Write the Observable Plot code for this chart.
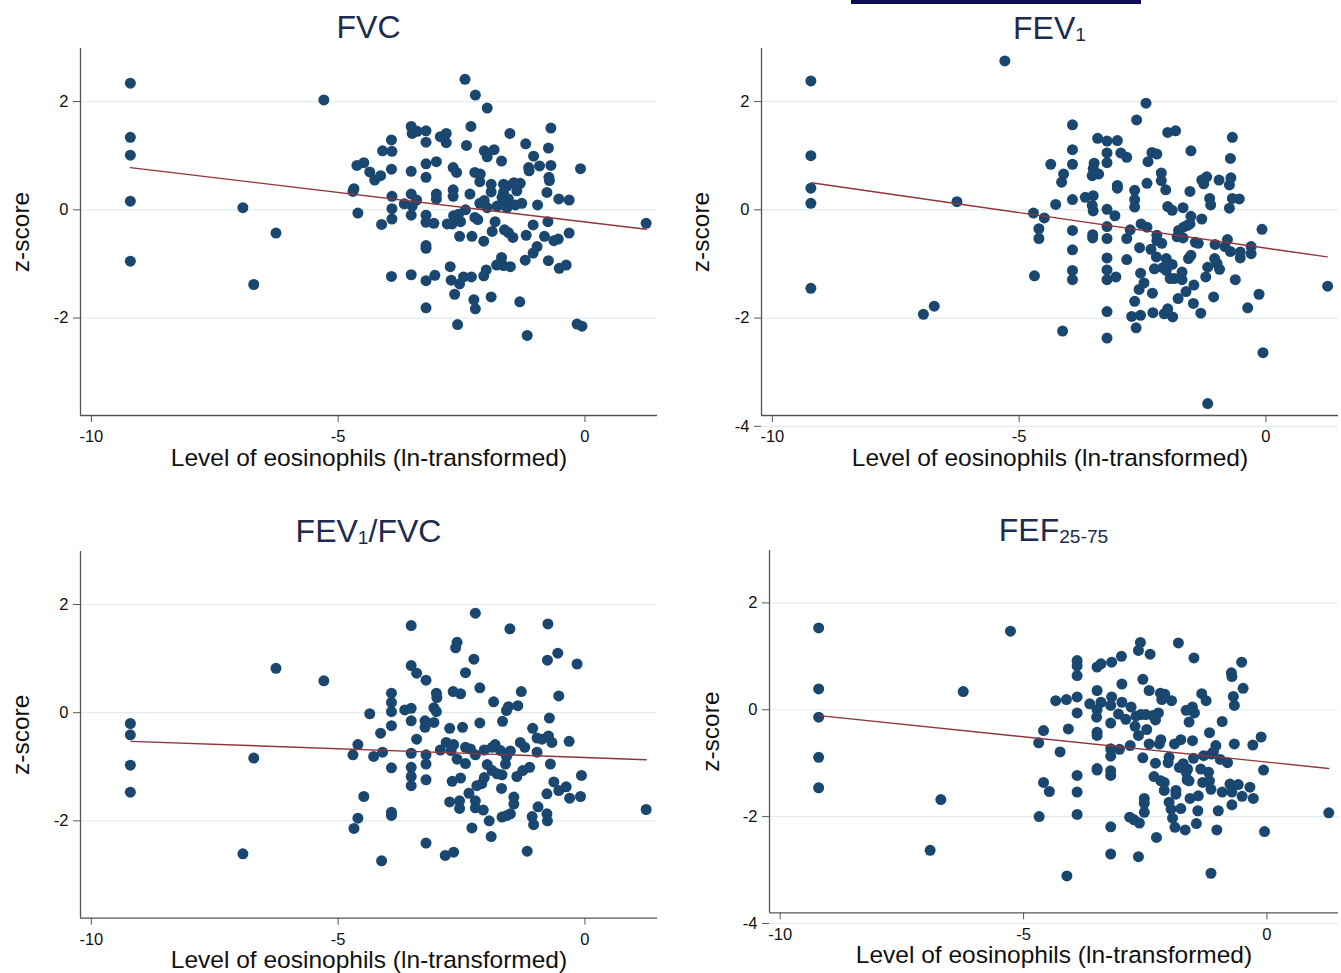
<!DOCTYPE html>
<html><head><meta charset="utf-8">
<script src="https://cdn.jsdelivr.net/npm/d3@7"></script>
<script src="https://cdn.jsdelivr.net/npm/@observablehq/plot@0.6"></script>
<style>
body{margin:0;background:#fff;width:1341px;height:973px;overflow:hidden;position:relative;font-family:"Liberation Sans",Arial,sans-serif}
.panel{position:absolute}
.title{position:absolute;text-align:center;font-size:32px;line-height:32px;color:#1d2b4e;white-space:nowrap}
.sub{font-size:0.6em;vertical-align:-2px}
#bar{position:absolute;left:851px;top:0;width:290px;height:4px;background:#0c0c58}
</style></head><body>
<div id="bar"></div>
<script>
// ---- data: [ln eosinophils, z-score] ----
const fvc = [
[-9.21,2.34],[-9.21,1.34],[-9.21,1.01],[-9.21,0.16],[-9.21,-0.95],[-6.93,0.04],[-6.26,-0.43],[-6.71,-1.38],[-5.29,2.03],
[-2.43,2.41],[-2.22,2.12],[-1.98,1.88],[-2.31,1.54],[-0.69,1.51],[-3.52,1.54],[-3.50,1.41],[-3.40,1.45],[-3.22,1.46],[-3.22,1.25],
[-2.93,1.35],[-2.81,1.41],[-2.81,1.24],[-3.92,1.29],[-4.10,1.09],[-3.91,1.08],[-2.40,1.19],[-1.52,1.41],[-1.20,1.22],[-0.74,1.14],
[-2.04,1.09],[-1.84,1.11],[-1.98,0.98],[-1.69,0.90],[-1.04,0.99],[-4.62,0.82],[-4.48,0.87],[-4.36,0.70],[-4.26,0.55],[-4.14,0.63],
[-3.92,0.75],[-3.52,0.71],[-3.22,0.85],[-3.01,0.89],[-3.22,0.60],[-2.67,0.78],[-2.60,0.69],[-2.23,0.69],[-2.12,0.66],[-2.13,0.52],
[-1.14,0.78],[-1.13,0.72],[-0.92,0.81],[-0.69,0.82],[-0.73,0.60],[-0.72,0.54],[-0.09,0.76],[-4.68,0.39],[-4.70,0.34],[-3.91,0.25],
[-3.52,0.29],[-3.41,0.18],[-3.66,0.11],[-3.50,0.07],[-3.52,-0.10],[-3.01,0.29],[-3.01,0.20],[-2.67,0.37],[-2.67,0.25],[-2.33,0.29],
[-1.90,0.47],[-1.90,0.33],[-1.65,0.47],[-1.58,0.44],[-1.44,0.50],[-1.31,0.49],[-1.38,0.35],[-1.65,0.32],[-1.68,0.23],[-1.55,0.20],
[-1.69,0.10],[-1.58,0.04],[-1.41,0.09],[-1.28,0.12],[-0.77,0.32],[-0.53,0.20],[-0.32,0.18],[-0.96,0.09],[-2.13,0.12],[-2.04,0.17],
[-1.98,0.04],[-1.78,0.07],[-4.60,-0.06],[-3.91,0.02],[-3.91,-0.17],[-4.12,-0.27],[-3.22,-0.10],[-3.22,-0.23],[-3.06,-0.25],[-2.79,-0.26],
[-2.69,-0.26],[-2.66,-0.11],[-2.56,-0.08],[-2.52,-0.22],[-2.42,0.00],[-2.23,-0.14],[-2.17,-0.18],[-1.82,-0.22],[-1.63,-0.37],[-1.55,-0.42],
[-1.46,-0.51],[-1.88,-0.40],[-1.05,-0.28],[-0.75,-0.22],[-2.54,-0.49],[-2.29,-0.49],[-2.05,-0.58],[-1.19,-0.47],[-0.82,-0.49],[-0.63,-0.57],
[-0.54,-0.54],[-0.32,-0.43],[-3.22,-0.66],[-3.22,-0.71],[-0.97,-0.68],[-1.05,-0.80],[-1.69,-0.88],[-1.79,-1.02],[-1.65,-1.03],[-1.51,-1.05],
[-1.21,-0.93],[-0.74,-0.94],[-0.52,-1.08],[-0.38,-1.02],[-2.73,-1.05],[-2.00,-1.11],[-2.05,-1.22],[-3.92,-1.23],[-3.52,-1.20],[-3.22,-1.31],
[-3.04,-1.21],[-2.71,-1.30],[-2.54,-1.37],[-2.46,-1.24],[-2.30,-1.24],[-2.64,-1.56],[-2.25,-1.66],[-2.22,-1.83],[-1.90,-1.61],[-1.32,-1.70],
[-3.22,-1.81],[-2.58,-2.12],[-1.17,-2.32],[-0.16,-2.11],[-0.06,-2.15],[1.24,-0.25]
];
const fev1 = [
[-9.22,2.38],[-9.22,1.00],[-9.22,0.40],[-9.22,0.12],[-9.22,-1.45],[-5.29,2.75],[-6.26,0.15],[-6.94,-1.93],[-6.72,-1.78],
[-2.43,1.97],[-2.62,1.66],[-3.92,1.57],[-3.41,1.32],[-3.22,1.27],[-3.01,1.28],[-1.99,1.43],[-1.83,1.46],[-0.68,1.34],[-3.92,1.11],
[-3.22,1.05],[-2.94,1.05],[-2.82,0.97],[-2.31,1.06],[-2.21,1.03],[-1.52,1.09],[-0.72,0.95],[-4.36,0.84],[-3.92,0.84],[-3.48,0.86],
[-3.50,0.76],[-3.39,0.66],[-3.52,0.63],[-3.22,0.87],[-2.39,0.89],[-4.10,0.66],[-4.14,0.51],[-2.12,0.68],[-2.12,0.54],[-1.30,0.55],
[-1.20,0.61],[-1.26,0.48],[-0.95,0.55],[-0.71,0.59],[-0.74,0.46],[-3.01,0.45],[-3.01,0.40],[-2.41,0.49],[-2.03,0.37],[-2.66,0.36],
[-2.66,0.19],[-2.66,0.05],[-1.54,0.34],[-1.14,0.21],[-1.12,0.09],[-0.68,0.21],[-0.54,0.20],[-0.74,0.03],[-3.92,0.19],[-3.66,0.23],
[-3.50,0.26],[-3.52,0.08],[-3.50,-0.02],[-4.26,0.10],[-3.22,0.01],[-3.06,-0.11],[-1.99,0.06],[-1.90,-0.01],[-1.68,0.04],[-1.52,-0.12],
[-1.30,-0.17],[-4.71,-0.06],[-4.49,-0.15],[-4.60,-0.35],[-4.60,-0.53],[-3.92,-0.38],[-3.22,-0.31],[-2.53,-0.26],[-2.41,-0.32],[-2.75,-0.37],
[-2.82,-0.53],[-3.51,-0.46],[-3.51,-0.52],[-3.22,-0.53],[-2.21,-0.47],[-2.21,-0.57],[-2.11,-0.62],[-1.77,-0.38],[-1.67,-0.32],[-1.60,-0.29],
[-1.54,-0.26],[-1.80,-0.50],[-1.68,-0.52],[-1.43,-0.60],[-1.37,-0.62],[-1.03,-0.64],[-0.78,-0.55],[-0.83,-0.68],[-0.72,-0.77],[-0.52,-0.78],
[-0.52,-0.89],[-0.30,-0.68],[-0.30,-0.81],[-0.08,-0.36],[-3.92,-0.74],[-2.56,-0.70],[-2.33,-0.73],[-3.22,-0.89],[-2.82,-0.92],[-2.22,-0.87],
[-2.02,-0.90],[-2.26,-1.09],[-2.09,-1.07],[-2.02,-1.12],[-1.90,-1.01],[-1.57,-0.90],[-1.52,-0.84],[-1.04,-0.90],[-0.99,-0.99],[-0.94,-1.10],
[-1.18,-1.06],[-3.92,-1.12],[-3.92,-1.29],[-3.22,-1.11],[-3.22,-1.29],[-3.04,-1.24],[-4.69,-1.22],[-2.54,-1.17],[-2.47,-1.35],[-2.57,-1.47],
[-1.94,-1.27],[-1.86,-1.27],[-1.70,-1.15],[-1.70,-1.29],[-1.22,-1.24],[-0.62,-1.29],[-1.46,-1.39],[-2.30,-1.54],[-1.62,-1.51],[-1.78,-1.64],
[-1.06,-1.61],[-0.14,-1.56],[-2.66,-1.69],[-1.47,-1.73],[-1.32,-1.91],[-0.37,-1.81],[-3.22,-1.88],[-2.72,-1.97],[-2.54,-1.95],[-2.29,-1.90],
[-2.06,-1.92],[-1.99,-1.83],[-1.89,-1.98],[-2.63,-2.18],[-4.12,-2.24],[-3.22,-2.37],[-0.06,-2.64],[-1.18,-3.58],[1.25,-1.41]
];
const fev1fvc = [
[-9.21,-0.20],[-9.21,-0.41],[-9.21,-0.97],[-9.21,-1.47],[-6.26,0.82],[-5.29,0.59],[-6.71,-0.84],[-6.93,-2.61],
[-2.22,1.84],[-3.52,1.61],[-1.52,1.55],[-0.75,1.64],[-2.59,1.30],[-2.62,1.20],[-2.25,0.99],[-0.76,0.97],[-0.55,1.10],[-0.16,0.90],
[-3.52,0.87],[-3.41,0.73],[-2.42,0.74],[-3.22,0.60],[-2.13,0.46],[-1.29,0.39],[-0.53,0.31],[-3.92,0.36],[-3.92,0.19],[-3.92,0.02],
[-3.01,0.36],[-3.00,0.28],[-2.67,0.39],[-2.52,0.35],[-1.85,0.20],[-1.59,0.04],[-1.55,0.11],[-1.36,0.13],[-4.36,-0.02],[-3.65,0.05],
[-3.52,0.08],[-3.06,0.09],[-3.01,0.02],[-3.52,-0.15],[-3.24,-0.15],[-3.24,-0.27],[-3.06,-0.18],[-2.13,-0.19],[-1.67,-0.16],[-0.72,-0.10],
[-3.92,-0.24],[-4.14,-0.38],[-2.74,-0.29],[-2.48,-0.27],[-1.06,-0.29],[-3.41,-0.49],[-0.97,-0.47],[-0.87,-0.49],[-0.74,-0.43],[-0.67,-0.55],
[-0.32,-0.53],[-4.60,-0.59],[-4.70,-0.78],[-4.28,-0.81],[-4.10,-0.73],[-3.52,-0.75],[-2.93,-0.69],[-2.81,-0.55],[-2.66,-0.59],[-2.71,-0.70],
[-2.42,-0.64],[-2.32,-0.67],[-2.22,-0.78],[-2.59,-0.86],[-2.42,-0.94],[-2.04,-0.69],[-1.88,-0.64],[-1.82,-0.59],[-1.71,-0.70],[-1.51,-0.71],
[-1.59,-0.81],[-1.31,-0.55],[-1.22,-0.64],[-0.97,-0.73],[-3.22,-0.78],[-3.22,-0.95],[-3.92,-1.02],[-3.52,-1.01],[-3.52,-1.18],[-3.52,-1.35],
[-3.22,-1.24],[-2.69,-1.27],[-2.52,-1.21],[-1.98,-0.96],[-1.88,-1.07],[-1.78,-1.13],[-1.68,-1.15],[-1.61,-0.95],[-2.04,-1.20],[-2.09,-1.31],
[-2.19,-1.35],[-1.38,-1.18],[-1.26,-1.07],[-1.12,-1.01],[-0.70,-0.95],[-0.07,-1.16],[-0.63,-1.28],[-0.53,-1.44],[-0.38,-1.37],[-0.31,-1.58],
[-0.09,-1.55],[-0.77,-1.50],[-1.69,-1.40],[-4.48,-1.55],[-2.35,-1.49],[-2.22,-1.63],[-2.22,-1.76],[-2.06,-1.80],[-2.74,-1.65],[-2.54,-1.63],
[-2.54,-1.77],[-1.44,-1.56],[-1.44,-1.69],[-1.51,-1.87],[-1.68,-1.93],[-1.58,-1.90],[-0.95,-1.74],[-1.07,-1.92],[-0.77,-1.87],[-0.76,-2.00],
[-1.04,-2.07],[-3.92,-1.84],[-3.92,-1.90],[-4.60,-1.95],[-4.68,-2.14],[-1.94,-2.00],[-2.29,-2.13],[-1.90,-2.29],[-3.22,-2.41],[-2.83,-2.64],
[-2.66,-2.58],[-1.17,-2.56],[-4.12,-2.74],[1.24,-1.79]
];
const fef2575 = [
[-9.21,1.53],[-9.21,0.39],[-9.21,-0.14],[-9.21,-0.89],[-9.21,-1.46],[-5.27,1.47],[-6.24,0.34],[-6.70,-1.68],[-6.92,-2.63],
[-2.60,1.26],[-2.64,1.11],[-1.82,1.25],[-2.40,1.04],[-2.99,1.00],[-1.50,0.97],[-3.90,0.92],[-3.90,0.82],[-3.90,0.64],[-3.49,0.80],
[-3.41,0.86],[-3.19,0.89],[-0.52,0.89],[-0.73,0.69],[-0.72,0.62],[-0.49,0.40],[-2.55,0.57],[-2.98,0.48],[-3.49,0.36],[-2.42,0.36],
[-4.34,0.17],[-4.12,0.19],[-3.90,0.24],[-3.64,0.11],[-3.41,0.14],[-3.49,0.00],[-3.50,-0.14],[-3.19,0.24],[-3.21,0.08],[-2.98,0.14],
[-2.79,0.05],[-2.19,0.31],[-2.10,0.29],[-2.16,0.19],[-1.96,0.17],[-1.34,0.30],[-1.25,0.17],[-0.69,0.25],[-0.67,0.08],[-1.66,-0.01],
[-1.53,0.05],[-1.49,-0.06],[-3.90,-0.06],[-3.05,-0.08],[-2.90,-0.18],[-2.69,-0.12],[-2.59,-0.09],[-2.49,-0.09],[-2.34,-0.11],[-2.23,-0.06],
[-2.29,-0.19],[-2.71,-0.31],[-2.47,-0.37],[-2.64,-0.48],[-3.21,-0.25],[-1.60,-0.23],[-0.92,-0.22],[-3.49,-0.42],[-3.49,-0.48],[-4.08,-0.36],
[-4.59,-0.39],[-4.69,-0.62],[-4.25,-0.79],[-1.18,-0.43],[-2.18,-0.56],[-2.21,-0.64],[-2.42,-0.64],[-1.90,-0.64],[-1.77,-0.56],[-1.53,-0.58],
[-0.67,-0.64],[-0.29,-0.66],[-0.12,-0.51],[-3.21,-0.73],[-3.21,-0.87],[-3.03,-0.74],[-2.81,-0.67],[-2.55,-0.90],[-2.29,-1.00],[-2.01,-0.89],
[-2.03,-0.99],[-1.80,-1.08],[-1.72,-1.01],[-1.63,-1.11],[-1.66,-1.17],[-1.64,-1.31],[-1.60,-1.33],[-1.51,-0.91],[-1.30,-0.86],[-1.14,-0.83],
[-1.05,-0.67],[-1.10,-0.79],[-0.96,-0.93],[-0.81,-0.99],[-1.36,-1.11],[-1.20,-1.17],[-1.32,-1.36],[-1.18,-1.33],[-1.15,-1.49],[-3.49,-1.10],
[-3.49,-1.13],[-3.21,-1.14],[-3.21,-1.23],[-3.90,-1.23],[-2.32,-1.25],[-2.18,-1.33],[-2.11,-1.36],[-2.11,-1.51],[-1.87,-1.51],[-1.87,-1.58],
[-0.07,-1.13],[-0.76,-1.39],[-0.59,-1.40],[-0.35,-1.45],[-0.92,-1.54],[-0.72,-1.54],[-0.51,-1.62],[-0.28,-1.66],[-4.59,-1.36],[-4.47,-1.53],
[-3.90,-1.54],[-2.52,-1.66],[-2.52,-1.75],[-2.52,-1.92],[-1.58,-1.66],[-1.41,-1.61],[-2.01,-1.73],[-1.97,-1.86],[-1.77,-1.85],[-1.42,-1.89],
[-1.00,-1.89],[-0.72,-1.78],[-4.68,-2.00],[-3.90,-1.96],[-2.82,-2.01],[-2.73,-2.06],[-2.62,-2.12],[-1.94,-2.03],[-1.89,-2.20],[-1.68,-2.25],
[-1.45,-2.13],[-1.03,-2.25],[-3.21,-2.19],[-2.27,-2.39],[-0.05,-2.28],[-3.21,-2.70],[-2.64,-2.75],[-4.11,-3.11],[-1.15,-3.06],[1.27,-1.93]
];
// fitted lines (end points)
const fitFVC = [[-9.21,0.78],[1.24,-0.36]];
const fitFEV1 = [[-9.21,0.50],[1.24,-0.87]];
const fitFEV1FVC = [[-9.20,-0.53],[1.24,-0.87]];
const fitFEF = [[-9.20,-0.11],[1.27,-1.10]];
const xTicks = [-10, -5, 0];
const xLabel = "Level of eosinophils (ln-transformed)";
const yLabel = "z-score";

const xDomain = [-10.22, 1.47];
const yDomain = [-3.8, 2.98];

const panels = [
  {data: fvc, fit: fitFVC, title: 'FVC', left: 0, top: 0, width: 680, height: 480, ml: 80, mt: 48, mr: 23, mb: 65, yTicks: [-2,0,2], zdx: -59, tb: 38.3},
  {data: fev1, fit: fitFEV1, title: 'FEV<span class="sub">1</span>', left: 680, top: 0, width: 661, height: 480, ml: 81, mt: 48, mr: 3, mb: 65, yTicks: [-4,-2,0,2], zdx: -60.5, tb: 38.7},
  {data: fev1fvc, fit: fitFEV1FVC, title: 'FEV<span class="sub">1</span>/FVC', left: 0, top: 500, width: 680, height: 473, ml: 80, mt: 51, mr: 23, mb: 55.3, yTicks: [-2,0,2], zdx: -59, tb: 41.7},
  {data: fef2575, fit: fitFEF, title: 'FEF<span class="sub">25-75</span>', left: 680, top: 500, width: 661, height: 473, ml: 89, mt: 50, mr: 3, mb: 60.7, yTicks: [-4,-2,0,2], zdx: -58.5, tb: 41}
];

for (const p of panels) {
  const plot = Plot.plot({
    width: p.width, height: p.height,
    marginLeft: p.ml, marginTop: p.mt, marginRight: p.mr, marginBottom: p.mb,
    x: {domain: xDomain},
    y: {domain: yDomain},
    style: {fontFamily: '"Liberation Sans", Arial, sans-serif', fontSize: "16px", color: "#111", background: "transparent", overflow: "visible"},
    marks: [
      Plot.ruleY(p.yTicks, {stroke: "#e2ecef", strokeWidth: 1.2}),
      Plot.ruleY([yDomain[0]], {stroke: "#555", strokeWidth: 1.3}),
      Plot.ruleX([xDomain[0]], {stroke: "#555", strokeWidth: 1.3}),
      Plot.axisX({ticks: xTicks, tickSize: 7, tickPadding: 8, fontSize: 16.5, stroke: "#555", label: null, tickFormat: d => String(d)}),
      Plot.axisY({ticks: p.yTicks, tickSize: 7, tickPadding: 5, fontSize: 16.5, stroke: "#555", label: null, tickFormat: d => String(d)}),
      Plot.dot(p.data, {x: d => d[0], y: d => d[1], r: 5.5, fill: "#1a476f"}),
      Plot.line(p.fit, {x: d => d[0], y: d => d[1], stroke: "#90353b", strokeWidth: 1.4}),
      Plot.text([xLabel], {text: d => d, frameAnchor: "bottom", textAnchor: "middle", dy: 50, lineAnchor: "bottom", fontSize: 24.5, fill: "#111"}),
      Plot.text([yLabel], {text: d => d, frameAnchor: "left", textAnchor: "middle", rotate: -90, dx: p.zdx, fontSize: 24.5, fill: "#111"})
    ]
  });
  plot.classList.add("panel");
  plot.style.left = p.left + "px";
  plot.style.top = p.top + "px";
  document.body.appendChild(plot);

  const t = document.createElement("div");
  t.className = "title";
  t.innerHTML = p.title;
  t.style.left = (p.left + p.ml) + "px";
  t.style.width = (p.width - p.ml - p.mr) + "px";
  t.style.top = (p.top + p.tb - 27.1) + "px";
  document.body.appendChild(t);
}
</script>
</body></html>
